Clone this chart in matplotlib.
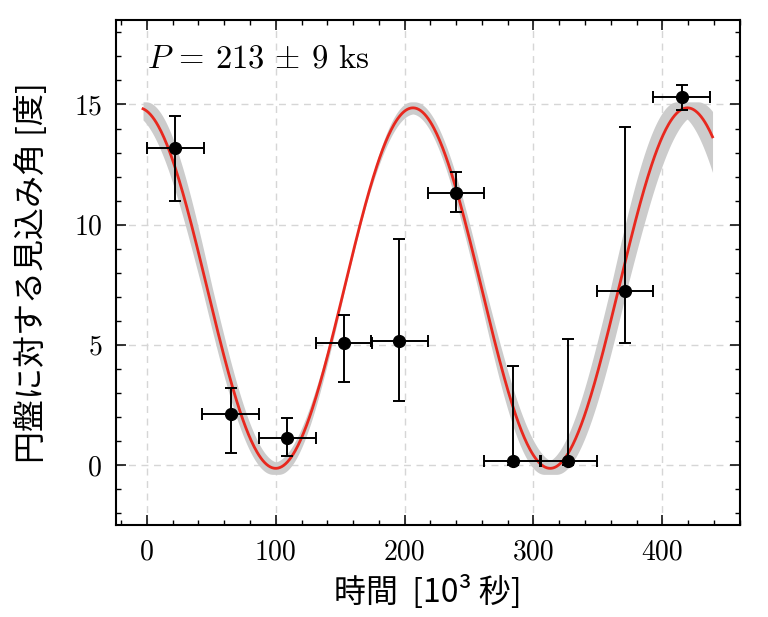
import numpy as np
import matplotlib
matplotlib.use("Agg")
import matplotlib.pyplot as plt
from matplotlib.ticker import MultipleLocator

# observations: time [10^3 s], angle [deg]
time_ks = [22, 65, 109, 153, 196, 240, 284, 327, 371, 415]
time_err = [22, 22, 22, 22, 22, 22, 22, 22, 22, 22]
angle = [13.18, 2.11, 1.11, 5.08, 5.17, 11.30, 0.18, 0.18, 7.25, 15.33]
angle_err_lo = [2.21, 1.62, 0.72, 1.64, 2.49, 0.77, 0.18, 0.18, 2.17, 0.58]
angle_err_hi = [1.35, 1.11, 0.83, 1.18, 4.23, 0.89, 3.93, 5.06, 6.82, 0.46]

# sinusoidal fit (best fit + spread used for the grey band)
period = 213.0
period_err = 7.0
amp = 7.5
amp_err = 0.25
offset = 7.36
t_peak = 206.5
t_anchor = 170.0
t_start, t_end = -3.0, 439.0

plt.rcParams['font.family'] = 'serif'
plt.rcParams['font.serif'] = ['cmr10', 'DejaVu Serif']
plt.rcParams['mathtext.fontset'] = 'cm'
plt.rcParams['axes.unicode_minus'] = False

fig = plt.figure(figsize=(7.68, 6.17), dpi=100)
ax = fig.add_axes([0.151, 0.149, 0.812, 0.818])

t = np.linspace(t_start, t_end, 600)
phase0 = 2 * np.pi * (t_anchor - t_peak) / period
fit = offset + amp * np.cos(2 * np.pi * (t - t_anchor) / period + phase0)

# envelope of curves for the period / amplitude uncertainty
curves = []
for p in np.linspace(period - period_err, period + period_err, 41):
    for a in (amp - amp_err, amp + amp_err):
        curves.append(offset + a * np.cos(2 * np.pi * (t - t_anchor) / p + phase0))
curves = np.array(curves)
ax.fill_between(t, curves.min(axis=0), curves.max(axis=0), color='#cccccc', lw=0, zorder=2)
ax.plot(t, fit, color='#e8281e', lw=2, zorder=3)

ax.errorbar(time_ks, angle, xerr=time_err, yerr=[angle_err_lo, angle_err_hi],
            fmt='o', color='black', ms=8.5, elinewidth=1.4, capsize=4.5, capthick=1.4, zorder=4)

ax.text(0, 16.55, r'$P$ = 213 $\pm$ 9 ks', fontsize=23.5, ha='left', va='baseline')

ax.set_xlim(-24, 460)
ax.set_ylim(-2.5, 18.5)
ax.xaxis.set_major_locator(MultipleLocator(100))
ax.xaxis.set_minor_locator(MultipleLocator(20))
ax.yaxis.set_major_locator(MultipleLocator(5))
ax.yaxis.set_minor_locator(MultipleLocator(1))
ax.tick_params(which='both', direction='in', top=True, right=True, labelsize=20, pad=10)
ax.tick_params(which='major', length=7, width=1.1)
ax.tick_params(which='minor', length=3.5, width=1.0)
for s in ax.spines.values():
    s.set_linewidth(1.5)

ax.grid(True, which='major', ls=(0, (5, 4)), color='#d6d6d6', lw=1)
ax.set_axisbelow(True)

cjk = ['Noto Sans CJK JP', 'DejaVu Sans']
ax.set_xlabel('時間  [10³ 秒]', fontsize=23, family=cjk, labelpad=7)
ax.set_ylabel('円盤に対する見込み角 [度]', fontsize=23, family=cjk, labelpad=19)

fig.savefig('out.png', dpi=100)
